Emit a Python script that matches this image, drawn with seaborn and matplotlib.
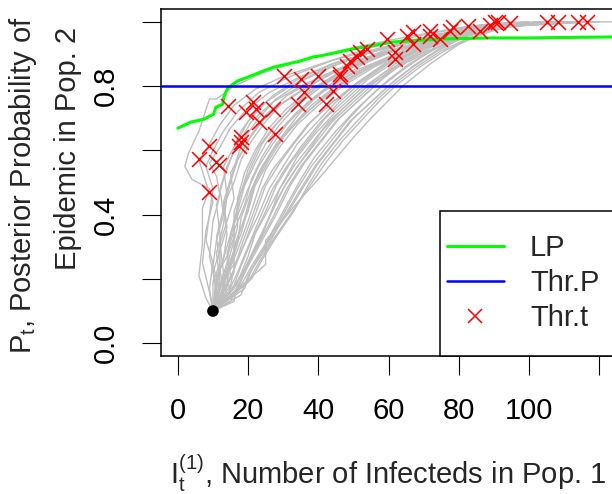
import matplotlib
matplotlib.use("Agg")
import matplotlib.pyplot as plt
import seaborn as sns
import pandas as pd
from matplotlib.lines import Line2D
from matplotlib.patches import Rectangle

# ---------------- data ----------------
start_x = [10]
start_y = [0.10]

lp_x = [0, 3.7, 7.4, 10.2, 10.8, 12.8, 13.1, 14.2, 17.0, 20.7, 23.6, 27.3, 31.3,
        34.9, 38.6, 40.6, 50, 61.4, 75.6, 89.8, 99.4, 124]
lp_y = [0.669, 0.688, 0.697, 0.713, 0.734, 0.744, 0.766, 0.794, 0.816, 0.831,
        0.844, 0.859, 0.869, 0.878, 0.891, 0.894, 0.916, 0.9375, 0.947, 0.95,
        0.95, 0.953]

thr_p = 0.8

thr_x = [105.1, 108.2, 113.9, 116.5, 90.3, 91.2, 94.6, 88.9, 86.1, 82.7, 78.4,
         77.6, 74.7, 71.9, 71.9, 67.0, 65.3, 67.0, 59.7, 61.9, 61.9, 54.0, 52.0,
         51.1, 49.1, 48.3, 46.3, 46.3, 44.3, 39.8, 35.0, 30.1, 35.8, 34.1, 42.1,
         14.2, 21.3, 22.2, 19.3, 27.0, 23.0, 27.8, 17.9, 17.9, 17.3, 8.8, 5.9,
         10.8, 11.6, 8.8]
thr_y = [1.00, 1.00, 1.00, 1.00, 1.00, 1.00, 0.997, 0.99, 0.97, 0.988, 0.984,
         0.972, 0.947, 0.972, 0.956, 0.969, 0.956, 0.931, 0.947, 0.906, 0.884,
         0.916, 0.906, 0.891, 0.878, 0.863, 0.838, 0.828, 0.784, 0.831, 0.822,
         0.831, 0.781, 0.744, 0.744, 0.738, 0.75, 0.728, 0.719, 0.728, 0.688,
         0.65, 0.641, 0.625, 0.613, 0.613, 0.572, 0.563, 0.556, 0.47]

runs_x = [
    [10, 8, 6, 7, 7, 9, 4, 2, 3, 6, 9, 11, 16, 24, 35, 50, 66, 82, 96],
    [10, 9, 7, 8, 10, 8, 6, 9, 12, 16, 22, 30, 41, 55, 70, 86, 100],
    [10, 11, 9, 10, 12, 11, 9, 12, 15, 19, 26, 35, 47, 60, 75, 90, 104],
    [10, 12, 11, 13, 14, 13, 16, 18, 22, 27, 34, 44, 56, 70, 84, 98],
    [10, 11, 12, 11, 13, 15, 17, 20, 24, 29, 36, 45, 57, 71, 86, 102],
    [10, 12, 13, 12, 14, 16, 15, 18, 21, 25, 31, 39, 49, 61, 75, 90, 108],
    [10, 11, 13, 14, 13, 16, 18, 21, 25, 30, 37, 46, 57, 70, 84, 100],
    [10, 13, 12, 14, 16, 18, 20, 23, 27, 32, 39, 48, 59, 72, 86, 103],
    [10, 12, 14, 15, 17, 19, 22, 25, 29, 34, 41, 50, 61, 74, 88, 106],
    [10, 13, 14, 16, 16, 20, 23, 27, 31, 37, 44, 53, 64, 77, 92],
    [10, 12, 15, 17, 18, 21, 24, 28, 33, 39, 46, 55, 66, 79, 94, 112],
    [10, 14, 15, 17, 20, 22, 26, 30, 35, 41, 48, 57, 67, 79, 93],
    [10, 13, 16, 18, 21, 24, 27, 32, 37, 43, 50, 58, 68, 80, 95, 110],
    [10, 15, 16, 19, 22, 25, 29, 33, 38, 44, 51, 59, 68, 79, 92, 118],
    [10, 14, 17, 20, 23, 27, 31, 35, 40, 46, 52, 60, 69, 80, 94],
    [10, 16, 18, 21, 25, 28, 32, 37, 42, 48, 54, 61, 70, 80, 92, 106],
    [10, 15, 19, 22, 26, 30, 34, 39, 44, 50, 56, 63, 71, 81, 93, 115],
    [10, 17, 20, 24, 28, 32, 36, 41, 46, 52, 58, 64, 72, 81, 91, 104],
    [10, 18, 21, 25, 29, 34, 38, 43, 48, 54, 60, 66, 74, 82, 92, 120],
    [10, 19, 22, 26, 31, 36, 40, 45, 50, 56, 62, 68, 75, 83, 92, 108],
    [10, 20, 23, 27, 32, 37, 42, 47, 52, 58, 63, 69, 76, 84, 93, 112],
    [10, 25, 25, 30, 35, 40, 45, 50, 55, 60, 64, 72, 80, 88, 95, 105, 124],
    [10, 12, 10, 11, 13, 12, 14, 17, 21, 27, 35, 45, 58, 73, 88, 102],
    [10, 14, 13, 15, 17, 17, 19, 22, 26, 31, 38, 47, 58, 71, 86, 104],
    [10, 11, 14, 16, 16, 18, 21, 24, 28, 33, 40, 49, 60, 73, 87],
    [10, 15, 14, 17, 20, 23, 25, 29, 34, 40, 47, 56, 66, 78, 91, 110],
    [10, 13, 17, 19, 23, 26, 30, 34, 39, 45, 51, 59, 68, 78, 90],
    [10, 17, 19, 23, 26, 29, 33, 38, 43, 49, 55, 62, 70, 79, 90, 100],
    [10, 16, 20, 23, 27, 31, 35, 40, 45, 51, 57, 63, 71, 80, 90, 114],
    [10, 19, 21, 26, 30, 35, 39, 44, 49, 55, 61, 67, 74, 82, 91, 100],
    [10, 9, 10, 8, 9, 10, 8, 10, 13, 17, 23, 32, 44, 58, 73, 89, 100],
    [10, 10, 12, 12, 11, 13, 15, 17, 20, 25, 32, 41, 53, 67, 82, 96],
    [10, 14, 16, 16, 19, 21, 23, 27, 32, 38, 45, 54, 64, 76, 90, 105],
    [10, 21, 24, 28, 33, 37, 41, 46, 51, 57, 62, 68, 75, 83, 92, 118],
    [10, 11, 10, 12, 14, 13, 15, 17, 19, 23, 28, 36, 46, 59, 74, 90, 106],
    [10, 13, 15, 14, 16, 19, 21, 24, 28, 34, 41, 50, 61, 74, 89, 103],
    [10, 12, 13, 15, 18, 20, 22, 26, 30, 35, 42, 51, 62, 75, 90],
    [10, 16, 17, 20, 22, 26, 30, 34, 39, 45, 52, 60, 69, 80, 93, 112],
    [10, 18, 20, 24, 27, 31, 35, 39, 45, 51, 57, 64, 72, 81, 92, 108],
    [10, 15, 18, 21, 24, 27, 31, 36, 41, 47, 53, 61, 70, 80, 92],
]
runs_y = [
    [.10, .14, .21, .31, .42, .48, .51, .55, .59, .66, .76, .76, .80, .84, .88, .92, .955, .985, 1.0],
    [.10, .16, .25, .35, .44, .50, .57, .62, .68, .74, .79, .83, .87, .92, .96, .99, 1.0],
    [.10, .18, .27, .38, .46, .52, .56, .61, .67, .72, .78, .83, .88, .92, .96, .99, 1.0],
    [.10, .19, .28, .37, .46, .55, .61, .66, .72, .77, .82, .87, .91, .95, .98, 1.0],
    [.10, .16, .24, .33, .42, .50, .57, .63, .69, .74, .79, .85, .90, .94, .98, 1.0],
    [.10, .17, .22, .31, .38, .45, .53, .59, .65, .71, .77, .82, .87, .92, .96, .99, 1.0],
    [.10, .20, .26, .34, .43, .50, .57, .63, .69, .75, .80, .85, .90, .94, .98, 1.0],
    [.10, .15, .23, .30, .38, .47, .54, .61, .67, .73, .79, .85, .90, .94, .98, 1.0],
    [.10, .18, .25, .33, .41, .49, .56, .62, .68, .74, .80, .86, .91, .95, .98, 1.0],
    [.10, .17, .22, .29, .37, .48, .55, .62, .68, .75, .81, .87, .92, .96, .995],
    [.10, .15, .24, .31, .39, .48, .55, .62, .68, .74, .80, .86, .91, .95, .985, 1.0],
    [.10, .19, .25, .33, .41, .49, .57, .64, .70, .76, .82, .87, .92, .96, .995],
    [.10, .16, .23, .30, .39, .48, .54, .61, .68, .74, .80, .86, .91, .95, .985, 1.0],
    [.10, .18, .23, .31, .40, .49, .56, .62, .69, .75, .81, .87, .91, .95, .985, 1.0],
    [.10, .15, .22, .30, .38, .48, .55, .61, .68, .75, .81, .87, .92, .96, .995],
    [.10, .18, .24, .32, .41, .49, .56, .63, .70, .76, .82, .87, .92, .96, .985, 1.0],
    [.10, .16, .23, .30, .39, .48, .55, .62, .69, .75, .81, .87, .92, .96, .99, 1.0],
    [.10, .17, .24, .32, .40, .49, .56, .63, .70, .76, .82, .87, .92, .96, .99, 1.0],
    [.10, .18, .24, .31, .38, .48, .55, .62, .69, .76, .82, .87, .92, .96, .99, 1.0],
    [.10, .18, .25, .32, .40, .49, .56, .63, .70, .76, .82, .87, .92, .96, .99, 1.0],
    [.10, .19, .25, .32, .40, .48, .56, .63, .69, .76, .81, .86, .91, .95, .985, 1.0],
    [.10, .245, .32, .385, .45, .51, .575, .64, .70, .755, .80, .87, .93, .97, .99, 1.0, 1.0],
    [.10, .17, .24, .32, .40, .48, .55, .62, .69, .75, .80, .85, .90, .94, .98, 1.0],
    [.10, .14, .20, .28, .36, .45, .53, .60, .67, .73, .79, .85, .90, .94, .98, 1.0],
    [.10, .21, .27, .33, .41, .47, .55, .62, .68, .74, .80, .86, .91, .95, .99],
    [.10, .15, .21, .29, .38, .48, .54, .61, .68, .74, .80, .86, .91, .95, .985, 1.0],
    [.10, .20, .26, .31, .40, .48, .55, .62, .68, .75, .81, .87, .92, .96, .995],
    [.10, .16, .23, .31, .39, .48, .55, .62, .69, .75, .81, .87, .92, .96, .99, 1.0],
    [.10, .17, .25, .31, .39, .48, .55, .62, .69, .75, .81, .87, .92, .96, .99, 1.0],
    [.10, .17, .23, .31, .39, .48, .55, .62, .69, .75, .81, .86, .91, .955, .985, 1.0],
    [.10, .17, .25, .32, .40, .48, .55, .60, .66, .72, .78, .83, .88, .92, .96, .99, 1.0],
    [.10, .19, .25, .34, .43, .51, .57, .63, .69, .75, .80, .85, .90, .94, .98, 1.0],
    [.10, .18, .22, .30, .39, .47, .53, .60, .67, .74, .80, .86, .91, .95, .985, 1.0],
    [.10, .20, .26, .33, .41, .49, .56, .63, .69, .76, .81, .86, .91, .95, .985, 1.0],
    [.10, .15, .22, .29, .36, .44, .51, .58, .64, .70, .76, .82, .87, .92, .96, .99, 1.0],
    [.10, .14, .21, .28, .35, .43, .51, .58, .65, .72, .78, .84, .89, .94, .98, 1.0],
    [.10, .13, .19, .26, .34, .42, .50, .58, .65, .72, .79, .85, .90, .95, .99],
    [.10, .13, .19, .27, .34, .42, .50, .58, .65, .72, .79, .85, .90, .95, .985, 1.0],
    [.10, .15, .21, .28, .35, .43, .51, .58, .66, .73, .79, .85, .91, .955, .99, 1.0],
    [.10, .13, .20, .27, .34, .42, .50, .58, .66, .73, .79, .85, .90, .95, .99],
]

x_ticks = [0, 20, 40, 60, 80, 100, 120]
x_tick_labels = ["0", "20", "40", "60", "80", "100", ""]
y_ticks = [0.0, 0.2, 0.4, 0.6, 0.8, 1.0]
y_tick_labels = ["0.0", "", "0.4", "", "0.8", ""]
legend_labels = ["LP", "Thr.P", "Thr.t"]

# ---------------- styling ----------------
sns.set_theme(style="white")
plt.rcParams["font.family"] = ["Liberation Sans", "DejaVu Sans"]
plt.rcParams["mathtext.fontset"] = "custom"
plt.rcParams["mathtext.rm"] = "Liberation Sans"
plt.rcParams["mathtext.it"] = "Liberation Sans"
plt.rcParams["mathtext.bf"] = "Liberation Sans"

W, H = 612, 494
fig = plt.figure(figsize=(W / 100, H / 100), dpi=100)
ax_l, ax_r, ax_t, ax_b = 161, 616, 9, 356
ax = fig.add_axes([ax_l / W, (H - ax_b) / H, (ax_r - ax_l) / W, (ax_b - ax_t) / H])

rows = []
for i, (xs, ys) in enumerate(zip(runs_x, runs_y)):
    for j, (xv, yv) in enumerate(zip(xs, ys)):
        rows.append({"run": i, "step": j, "x": xv, "y": yv})
df = pd.DataFrame(rows)

sns.lineplot(data=df, x="x", y="y", units="run", estimator=None, sort=False,
             color="#BEBEBE", lw=1.0, ax=ax, legend=False, zorder=1)
sns.lineplot(x=lp_x, y=lp_y, color="#00FF00", lw=2.2, ax=ax, sort=False,
             legend=False, zorder=3)
ax.axhline(thr_p, color="#0000FF", lw=1.8, zorder=4)
sns.scatterplot(x=thr_x, y=thr_y, marker="x", color="#FF0000", s=115,
                linewidth=1.1, ax=ax, legend=False, zorder=5)
sns.scatterplot(x=start_x, y=start_y, color="black", s=70, edgecolor="none",
                ax=ax, legend=False, zorder=6)

ax.set_xlim(-4.8, 124.8)
ax.set_ylim(-0.04, 1.04)
ax.set_xticks(x_ticks)
ax.set_xticklabels(x_tick_labels)
ax.set_yticks(y_ticks)
ax.set_yticklabels(y_tick_labels, rotation=90, va="center")
ax.set_xlabel("")
ax.set_ylabel("")
for s in ax.spines.values():
    s.set_color("black")
    s.set_linewidth(1.1)
ax.tick_params(axis="both", which="major", direction="out", length=13.7,
               width=0.8, color="black", labelsize=21, labelcolor="black")
ax.tick_params(axis="x", pad=15.5, bottom=True)
ax.tick_params(axis="y", pad=16, left=True)

# legend frame (R style box) and entries
fx0 = (440 - ax_l) / (ax_r - ax_l)
fy1 = (ax_b - 211) / (ax_b - ax_t)
ax.add_patch(Rectangle((fx0, 0), 1.05 - fx0, fy1, transform=ax.transAxes,
                       facecolor="white", edgecolor="black", lw=1.1,
                       zorder=7, clip_on=False))
handles = [Line2D([], [], color="#00FF00", lw=2.2),
           Line2D([], [], color="#0000FF", lw=1.8),
           Line2D([], [], color="#FF0000", marker="x", ls="none", ms=10.7, mew=1.1)]
leg = ax.legend(handles, legend_labels, loc="center left",
                bbox_to_anchor=((447 - ax_l) / (ax_r - ax_l), (ax_b - 283) / (ax_b - ax_t)),
                frameon=False, borderpad=0, borderaxespad=0, handlelength=1.95,
                handletextpad=0.9, labelspacing=0.24, fontsize=21)
leg.set_zorder(8)

# axis titles
fig.text(388 / W, 1 - 484 / H, r"$\mathregular{I_t^{(1)}}$, Number of Infecteds in Pop. 1",
         ha="center", va="baseline", fontsize=21)
fig.text(23 / W, 1 - 185 / H, r"$\mathregular{P_t}$, Posterior Probability of",
         ha="center", va="center", rotation=90, fontsize=21)
fig.text(68 / W, 1 - 148 / H, "Epidemic in Pop. 2",
         ha="center", va="center", rotation=90, fontsize=21)

fig.savefig("out.png", dpi=100)
